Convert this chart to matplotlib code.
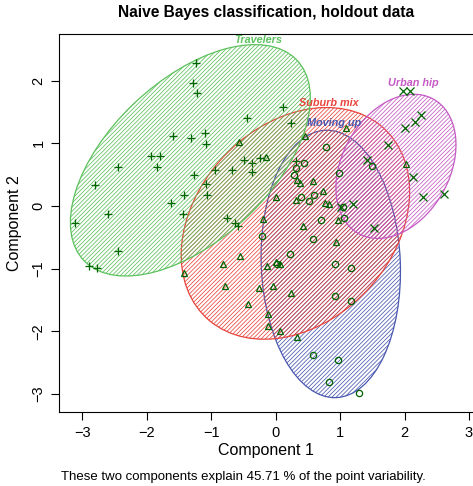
import matplotlib
matplotlib.use("Agg")
import matplotlib.pyplot as plt
from matplotlib.patches import Ellipse

plt.rcParams['font.family'] = ['Liberation Sans', 'DejaVu Sans']
plt.rcParams['hatch.linewidth'] = 0.55

# cluster names and colours
clusters = ['Moving up', 'Suburb mix', 'Travelers', 'Urban hip']
clus_colors = ['#4a58b0', '#e8453c', '#5cc15c', '#c55ac5']
point_color = '#006400'
markers = ['o', '^', '+', 'x']

# points per cluster (component 1, component 2)
moving_x = [0.785, 0.44, 0.31, 0.28, 0.39, 0.59, 0.515, 0.99, 1.50, 1.04, 1.06, 0.71,
            -0.215, 0.58, 0.216, 0.025, 0.927, 1.175, 0.917, 1.17, 0.577, 0.968, 0.824, 1.288]
moving_y = [0.95, 0.69, 0.60, 0.49, 0.144, 0.17, 0.08, 0.52, 0.634, -0.016, -0.185, -0.228,
            -0.48, -0.53, -0.77, -0.92, -0.92, -0.985, -1.43, -1.51, -2.37, -2.46, -2.81, -2.98]

suburb_x = [-0.57, -0.155, 0.46, 1.09, 0.334, 0.376, 0.577, 0.74, 0.0, 0.32, 0.76, 0.83,
            0.97, -0.196, 0.427, 0.937, -0.55, -0.825, -0.13, 0.0, 0.062, -1.43, -0.78,
            -0.26, -0.04, 0.23, -0.43, -0.12, -0.12, 0.066, 0.334, 2.02]
suburb_y = [1.02, 0.78, 1.115, 1.24, 0.41, 0.37, 0.40, 0.24, 0.144, 0.10, 0.054, 0.027,
            -0.22, -0.21, -0.315, -0.575, -0.80, -0.925, -0.96, -0.89, -0.92, -1.07, -1.28,
            -1.30, -1.27, -1.38, -1.57, -1.72, -1.91, -2.00, -2.09, 0.677]

travel_x = [-1.23, -1.29, -1.22, -0.45, 0.11, 0.24, -1.60, -1.32, -1.10, -1.08, -1.93, -1.79,
            -2.45, -1.85, -1.27, -0.95, -0.68, -0.49, -0.37, -0.25, -0.37, 0.31, -2.81, -1.08,
            -1.07, -1.43, -1.62, -2.60, -1.44, -3.11, -0.76, -0.63, -0.59, -2.45, -2.90, -2.77]
travel_y = [2.28, 1.96, 1.80, 1.41, 1.58, 1.33, 1.12, 1.09, 1.16, 0.99, 0.80, 0.80,
            0.62, 0.63, 0.50, 0.57, 0.58, 0.74, 0.69, 0.76, 0.54, 0.72, 0.33, 0.35,
            0.18, 0.18, 0.05, -0.13, -0.13, -0.27, -0.19, -0.27, -0.31, -0.72, -0.95, -0.98]

urban_x = [1.97, 2.09, 2.25, 2.17, 2.01, 1.75, 1.41, 2.13, 2.28, 2.61, 1.02, 1.20, 1.52]
urban_y = [1.83, 1.83, 1.46, 1.34, 1.25, 0.97, 0.73, 0.46, 0.144, 0.187, -0.016, 0.027, -0.35]

# cluster ellipses: centre, semi axes, angle (deg)
ell_cx = [0.855, 0.306, -1.325, 1.867]
ell_cy = [-0.923, -0.276, 0.73, 0.634]
ell_a = [2.134, 2.046, 2.30, 1.22]
ell_b = [1.08, 1.541, 1.26, 0.838]
ell_ang = [92.2, 49.3, 44.5, 62.6]

# label positions
lab_x = [0.90, 0.82, -0.27, 2.14]
lab_y = [1.32, 1.64, 2.65, 1.96]

xs = [moving_x, suburb_x, travel_x, urban_x]
ys = [moving_y, suburb_y, travel_y, urban_y]

fig = plt.figure(figsize=(4.73, 4.86), dpi=100)
ax = fig.add_axes([0.124, 0.1516, 0.881, 0.7791])

for i in range(4):
    e = Ellipse((ell_cx[i], ell_cy[i]), 2 * ell_a[i], 2 * ell_b[i], angle=ell_ang[i],
                facecolor='none', edgecolor=clus_colors[i], hatch='////////', lw=0.9)
    ax.add_patch(e)

for i in range(4):
    if markers[i] in ['o', '^']:
        ax.plot(xs[i], ys[i], linestyle='none', marker=markers[i], markersize=4.5,
                mfc='none', mec=point_color, mew=0.9)
    else:
        ax.plot(xs[i], ys[i], linestyle='none', marker=markers[i], markersize=5.5,
                color=point_color, mew=0.9)

for i in range(4):
    ax.text(lab_x[i], lab_y[i], clusters[i], color=clus_colors[i], fontsize=7.8,
            fontweight='bold', fontstyle='italic', ha='center', va='center')

ax.set_xlim(-3.37, 3.1)
ax.set_ylim(-3.29, 2.75)
ax.set_xticks([-3, -2, -1, 0, 1, 2, 3])
ax.set_yticks([-3, -2, -1, 0, 1, 2])
ax.tick_params(direction='out', length=6, labelsize=10.5, width=0.8)
for lab in ax.get_yticklabels():
    lab.set_rotation(90)
    lab.set_va('center')
for s in ax.spines.values():
    s.set_linewidth(0.8)

fig.text(0.562, 0.975, 'Naive Bayes classification, holdout data', ha='center', va='center',
         fontsize=11.2, fontweight='bold')
fig.text(0.562, 0.074, 'Component 1', ha='center', va='center', fontsize=11.5)
fig.text(0.03, 0.541, 'Component 2', ha='center', va='center', fontsize=11.5, rotation=90)
fig.text(0.514, 0.018, 'These two components explain 45.71 % of the point variability.',
         ha='center', va='center', fontsize=9.5)

fig.savefig('out.png', dpi=100)
